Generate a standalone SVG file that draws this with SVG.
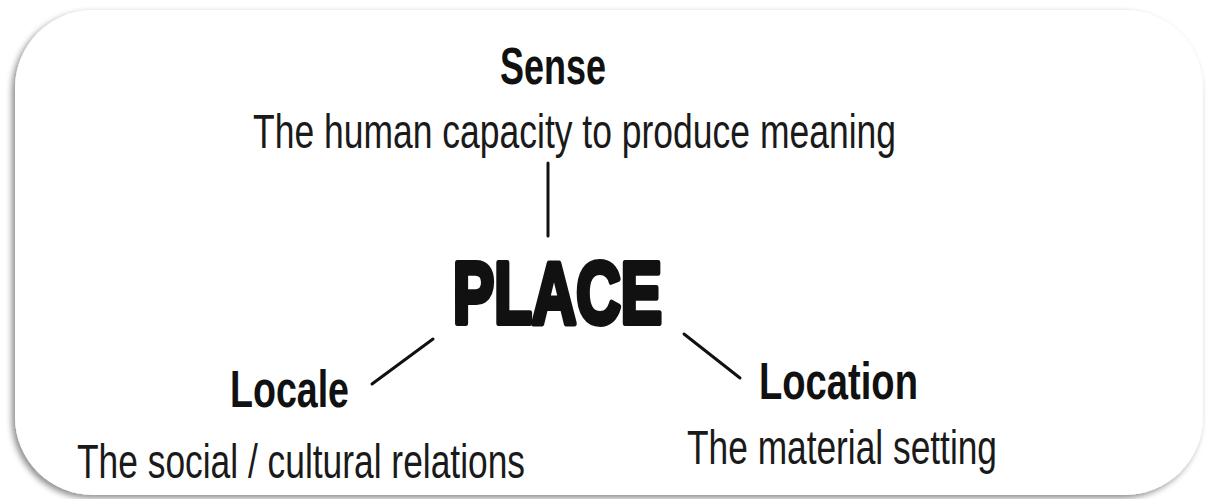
<svg xmlns="http://www.w3.org/2000/svg" width="1222" height="499" viewBox="0 0 1222 499">
<defs>
<filter id="sh" x="-5%" y="-5%" width="110%" height="115%">
<feDropShadow dx="-3" dy="3" stdDeviation="3" flood-color="#000" flood-opacity="0.45"/>
</filter>
<style>
.t{font-family:"Liberation Sans",Arial,sans-serif;fill:#1a1a1a;font-size:49px}
.b{font-family:"Liberation Sans",Arial,sans-serif;fill:#111;font-size:52px;font-weight:bold}
.p{font-family:"Liberation Sans",Arial,sans-serif;fill:#111;stroke:#111;stroke-width:6;stroke-linejoin:round;font-size:88px;font-weight:bold}
.c{stroke:#111;stroke-width:3;fill:none;stroke-linecap:round}
</style>
</defs>
<rect x="15" y="10" width="1188" height="485" rx="78" ry="78" fill="#fff" filter="url(#sh)"/>
<g id="connectors">
<line class="c" x1="548" y1="163" x2="548" y2="236"/>
<line class="c" x1="372" y1="384" x2="433" y2="339"/>
<line class="c" x1="684" y1="334" x2="740" y2="378"/>
</g>
<g id="sense">
<text class="b" x="500" y="84" textLength="106" lengthAdjust="spacingAndGlyphs">Sense</text>
<text class="t" x="253" y="148" textLength="643" lengthAdjust="spacingAndGlyphs">The human capacity to produce meaning</text>
</g>
<g id="place">
<text class="p" x="453" y="323" textLength="209" lengthAdjust="spacingAndGlyphs">PLACE</text>
</g>
<g id="locale">
<text class="b" x="230" y="407" textLength="119" lengthAdjust="spacingAndGlyphs">Locale</text>
<text class="t" x="77" y="478" textLength="448" lengthAdjust="spacingAndGlyphs">The social / cultural relations</text>
</g>
<g id="location">
<text class="b" x="759" y="399" textLength="159" lengthAdjust="spacingAndGlyphs">Location</text>
<text class="t" x="687" y="464" textLength="310" lengthAdjust="spacingAndGlyphs">The material setting</text>
</g>
</svg>
